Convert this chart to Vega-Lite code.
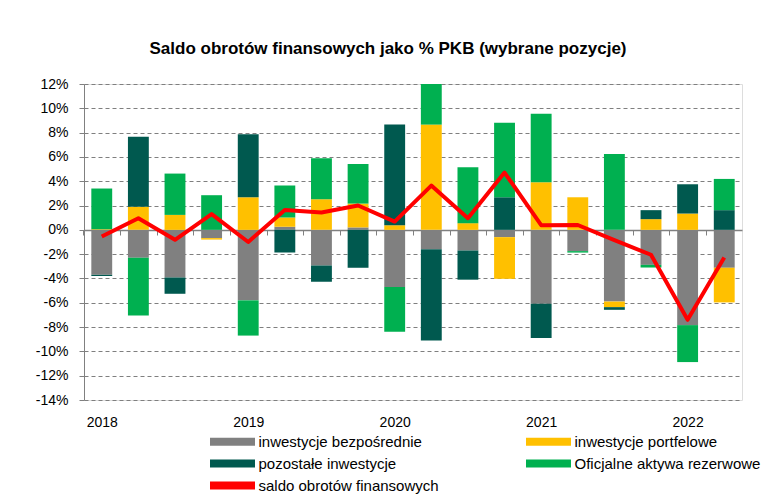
{
  "$schema": "https://vega.github.io/schema/vega-lite/v6.json",
  "width": 658,
  "height": 316,
  "autosize": {"type": "none"},
  "padding": {"left": 84, "top": 84, "right": 30, "bottom": 99},
  "background": "white",
  "title": {"text": "Saldo obrotów finansowych jako % PKB (wybrane pozycje)", "font": "Liberation Sans", "fontSize": 17, "fontWeight": "bold", "color": "#000000", "anchor": "middle", "dx": -25, "offset": 19},
  "datasets": {
    "bars": [
      {"q":"2018Q1","cat":"inwestycje bezpośrednie","o":1,"v":-3.7},{"q":"2018Q1","cat":"inwestycje portfelowe","o":2,"v":0.05},{"q":"2018Q1","cat":"pozostałe inwestycje","o":3,"v":-0.1},{"q":"2018Q1","cat":"Oficjalne aktywa rezerwowe","o":4,"v":3.35},
      {"q":"2018Q2","cat":"inwestycje bezpośrednie","o":1,"v":-2.3},{"q":"2018Q2","cat":"inwestycje portfelowe","o":2,"v":1.9},{"q":"2018Q2","cat":"pozostałe inwestycje","o":3,"v":5.77},{"q":"2018Q2","cat":"Oficjalne aktywa rezerwowe","o":4,"v":-4.74},
      {"q":"2018Q3","cat":"inwestycje bezpośrednie","o":1,"v":-3.92},{"q":"2018Q3","cat":"inwestycje portfelowe","o":2,"v":1.23},{"q":"2018Q3","cat":"pozostałe inwestycje","o":3,"v":-1.34},{"q":"2018Q3","cat":"Oficjalne aktywa rezerwowe","o":4,"v":3.4},
      {"q":"2018Q4","cat":"inwestycje bezpośrednie","o":1,"v":-0.68},{"q":"2018Q4","cat":"inwestycje portfelowe","o":2,"v":-0.12},{"q":"2018Q4","cat":"pozostałe inwestycje","o":3,"v":0},{"q":"2018Q4","cat":"Oficjalne aktywa rezerwowe","o":4,"v":2.85},
      {"q":"2019Q1","cat":"inwestycje bezpośrednie","o":1,"v":-5.8},{"q":"2019Q1","cat":"inwestycje portfelowe","o":2,"v":2.68},{"q":"2019Q1","cat":"pozostałe inwestycje","o":3,"v":5.18},{"q":"2019Q1","cat":"Oficjalne aktywa rezerwowe","o":4,"v":-2.9},
      {"q":"2019Q2","cat":"inwestycje bezpośrednie","o":1,"v":0.25},{"q":"2019Q2","cat":"inwestycje portfelowe","o":2,"v":0.76},{"q":"2019Q2","cat":"pozostałe inwestycje","o":3,"v":-1.86},{"q":"2019Q2","cat":"Oficjalne aktywa rezerwowe","o":4,"v":2.63},
      {"q":"2019Q3","cat":"inwestycje bezpośrednie","o":1,"v":-2.93},{"q":"2019Q3","cat":"inwestycje portfelowe","o":2,"v":2.52},{"q":"2019Q3","cat":"pozostałe inwestycje","o":3,"v":-1.34},{"q":"2019Q3","cat":"Oficjalne aktywa rezerwowe","o":4,"v":3.38},
      {"q":"2019Q4","cat":"inwestycje bezpośrednie","o":1,"v":0.2},{"q":"2019Q4","cat":"inwestycje portfelowe","o":2,"v":1.96},{"q":"2019Q4","cat":"pozostałe inwestycje","o":3,"v":-3.12},{"q":"2019Q4","cat":"Oficjalne aktywa rezerwowe","o":4,"v":3.26},
      {"q":"2020Q1","cat":"inwestycje bezpośrednie","o":1,"v":-4.71},{"q":"2020Q1","cat":"inwestycje portfelowe","o":2,"v":0.38},{"q":"2020Q1","cat":"pozostałe inwestycje","o":3,"v":8.28},{"q":"2020Q1","cat":"Oficjalne aktywa rezerwowe","o":4,"v":-3.67},
      {"q":"2020Q2","cat":"inwestycje bezpośrednie","o":1,"v":-1.59},{"q":"2020Q2","cat":"inwestycje portfelowe","o":2,"v":8.66},{"q":"2020Q2","cat":"pozostałe inwestycje","o":3,"v":-7.51},{"q":"2020Q2","cat":"Oficjalne aktywa rezerwowe","o":4,"v":3.34},
      {"q":"2020Q3","cat":"inwestycje bezpośrednie","o":1,"v":-1.7},{"q":"2020Q3","cat":"inwestycje portfelowe","o":2,"v":0.55},{"q":"2020Q3","cat":"pozostałe inwestycje","o":3,"v":-2.4},{"q":"2020Q3","cat":"Oficjalne aktywa rezerwowe","o":4,"v":4.6},
      {"q":"2020Q4","cat":"inwestycje bezpośrednie","o":1,"v":-0.6},{"q":"2020Q4","cat":"inwestycje portfelowe","o":2,"v":-3.43},{"q":"2020Q4","cat":"pozostałe inwestycje","o":3,"v":2.68},{"q":"2020Q4","cat":"Oficjalne aktywa rezerwowe","o":4,"v":6.14},
      {"q":"2021Q1","cat":"inwestycje bezpośrednie","o":1,"v":-6.08},{"q":"2021Q1","cat":"inwestycje portfelowe","o":2,"v":3.92},{"q":"2021Q1","cat":"pozostałe inwestycje","o":3,"v":-2.82},{"q":"2021Q1","cat":"Oficjalne aktywa rezerwowe","o":4,"v":5.64},
      {"q":"2021Q2","cat":"inwestycje bezpośrednie","o":1,"v":-1.75},{"q":"2021Q2","cat":"inwestycje portfelowe","o":2,"v":2.68},{"q":"2021Q2","cat":"pozostałe inwestycje","o":3,"v":0},{"q":"2021Q2","cat":"Oficjalne aktywa rezerwowe","o":4,"v":-0.12},
      {"q":"2021Q3","cat":"inwestycje bezpośrednie","o":1,"v":-5.9},{"q":"2021Q3","cat":"inwestycje portfelowe","o":2,"v":-0.46},{"q":"2021Q3","cat":"pozostałe inwestycje","o":3,"v":-0.22},{"q":"2021Q3","cat":"Oficjalne aktywa rezerwowe","o":4,"v":6.25},
      {"q":"2021Q4","cat":"inwestycje bezpośrednie","o":1,"v":-2.88},{"q":"2021Q4","cat":"inwestycje portfelowe","o":2,"v":0.88},{"q":"2021Q4","cat":"pozostałe inwestycje","o":3,"v":0.74},{"q":"2021Q4","cat":"Oficjalne aktywa rezerwowe","o":4,"v":-0.22},
      {"q":"2022Q1","cat":"inwestycje bezpośrednie","o":1,"v":-7.84},{"q":"2022Q1","cat":"inwestycje portfelowe","o":2,"v":1.34},{"q":"2022Q1","cat":"pozostałe inwestycje","o":3,"v":2.41},{"q":"2022Q1","cat":"Oficjalne aktywa rezerwowe","o":4,"v":-3.04},
      {"q":"2022Q2","cat":"inwestycje bezpośrednie","o":1,"v":-3.12},{"q":"2022Q2","cat":"inwestycje portfelowe","o":2,"v":-2.85},{"q":"2022Q2","cat":"pozostałe inwestycje","o":3,"v":1.62},{"q":"2022Q2","cat":"Oficjalne aktywa rezerwowe","o":4,"v":2.57}
    ],
    "saldo": [
      {"q":"2018Q1","v":-0.55},{"q":"2018Q2","v":0.96},{"q":"2018Q3","v":-0.82},{"q":"2018Q4","v":1.3},
      {"q":"2019Q1","v":-1.0},{"q":"2019Q2","v":1.64},{"q":"2019Q3","v":1.42},{"q":"2019Q4","v":2.0},
      {"q":"2020Q1","v":0.68},{"q":"2020Q2","v":3.64},{"q":"2020Q3","v":0.96},{"q":"2020Q4","v":4.71},
      {"q":"2021Q1","v":0.38},{"q":"2021Q2","v":0.4},{"q":"2021Q3","v":-0.85},{"q":"2021Q4","v":-2.05},
      {"q":"2022Q1","v":-7.4},{"q":"2022Q2","v":-2.27}
    ]
  },
  "layer": [
    {
      "data": {"name": "bars"},
      "mark": {"type": "bar"},
      "encoding": {
        "x": {
          "field": "q", "type": "ordinal", "sort": null,
          "scale": {"paddingInner": 0.43, "paddingOuter": 0.2},
          "axis": {
            "orient": "bottom", "offset": -170, "title": null,
            "domainColor": "#808080", "domainWidth": 1.5,
            "ticks": true, "tickColor": "#808080", "tickSize": 5,
            "tickOffset": -18.31, "labelOffset": 18.31,
            "labelPadding": 180, "labelAngle": 0,
            "labelExpr": "slice(datum.value, 4) == 'Q1' ? slice(datum.value, 0, 4) : ''",
            "labelFont": "Liberation Sans", "labelFontSize": 14, "labelColor": "#000000",
            "grid": false
          }
        },
        "y": {
          "field": "v", "type": "quantitative", "stack": "zero",
          "scale": {"domain": [-14, 12], "nice": false},
          "axis": {
            "title": null,
            "values": [-14, -12, -10, -8, -6, -4, -2, 0, 2, 4, 6, 8, 10, 12],
            "tickCount": 30,
            "labelExpr": "datum.value + '%'", "labelOverlap": false,
            "grid": true, "gridDash": [4, 3], "gridColor": "#7f7f7f", "gridWidth": 1,
            "domainColor": "#808080", "tickColor": "#808080", "tickSize": 5,
            "labelPadding": 11, "labelFont": "Liberation Sans", "labelFontSize": 14, "labelColor": "#000000"
          }
        },
        "color": {
          "field": "cat", "type": "nominal",
          "scale": {
            "domain": ["inwestycje bezpośrednie", "pozostałe inwestycje", "saldo obrotów finansowych", "inwestycje portfelowe", "Oficjalne aktywa rezerwowe"],
            "range": ["#808080", "#00594F", "#FF0000", "#FFC000", "#00B050"]
          },
          "legend": {
            "orient": "none", "legendX": 141, "legendY": 350, "columns": 2, "title": null,
            "symbolType": "M-5.625,-1L5.625,-1L5.625,1L-5.625,1Z", "symbolSize": 64,
            "labelFont": "Liberation Sans", "labelFontSize": 15, "labelColor": "#000000",
            "labelOffset": 18.5, "columnPadding": 87, "rowPadding": 6, "labelLimit": 300
          }
        },
        "order": {"field": "o", "type": "quantitative"}
      }
    },
    {
      "data": {"name": "saldo"},
      "mark": {"type": "line", "color": "#FF0000", "strokeWidth": 4, "strokeJoin": "round"},
      "encoding": {
        "x": {"field": "q", "type": "ordinal", "sort": null},
        "y": {"field": "v", "type": "quantitative"}
      }
    }
  ]
}
